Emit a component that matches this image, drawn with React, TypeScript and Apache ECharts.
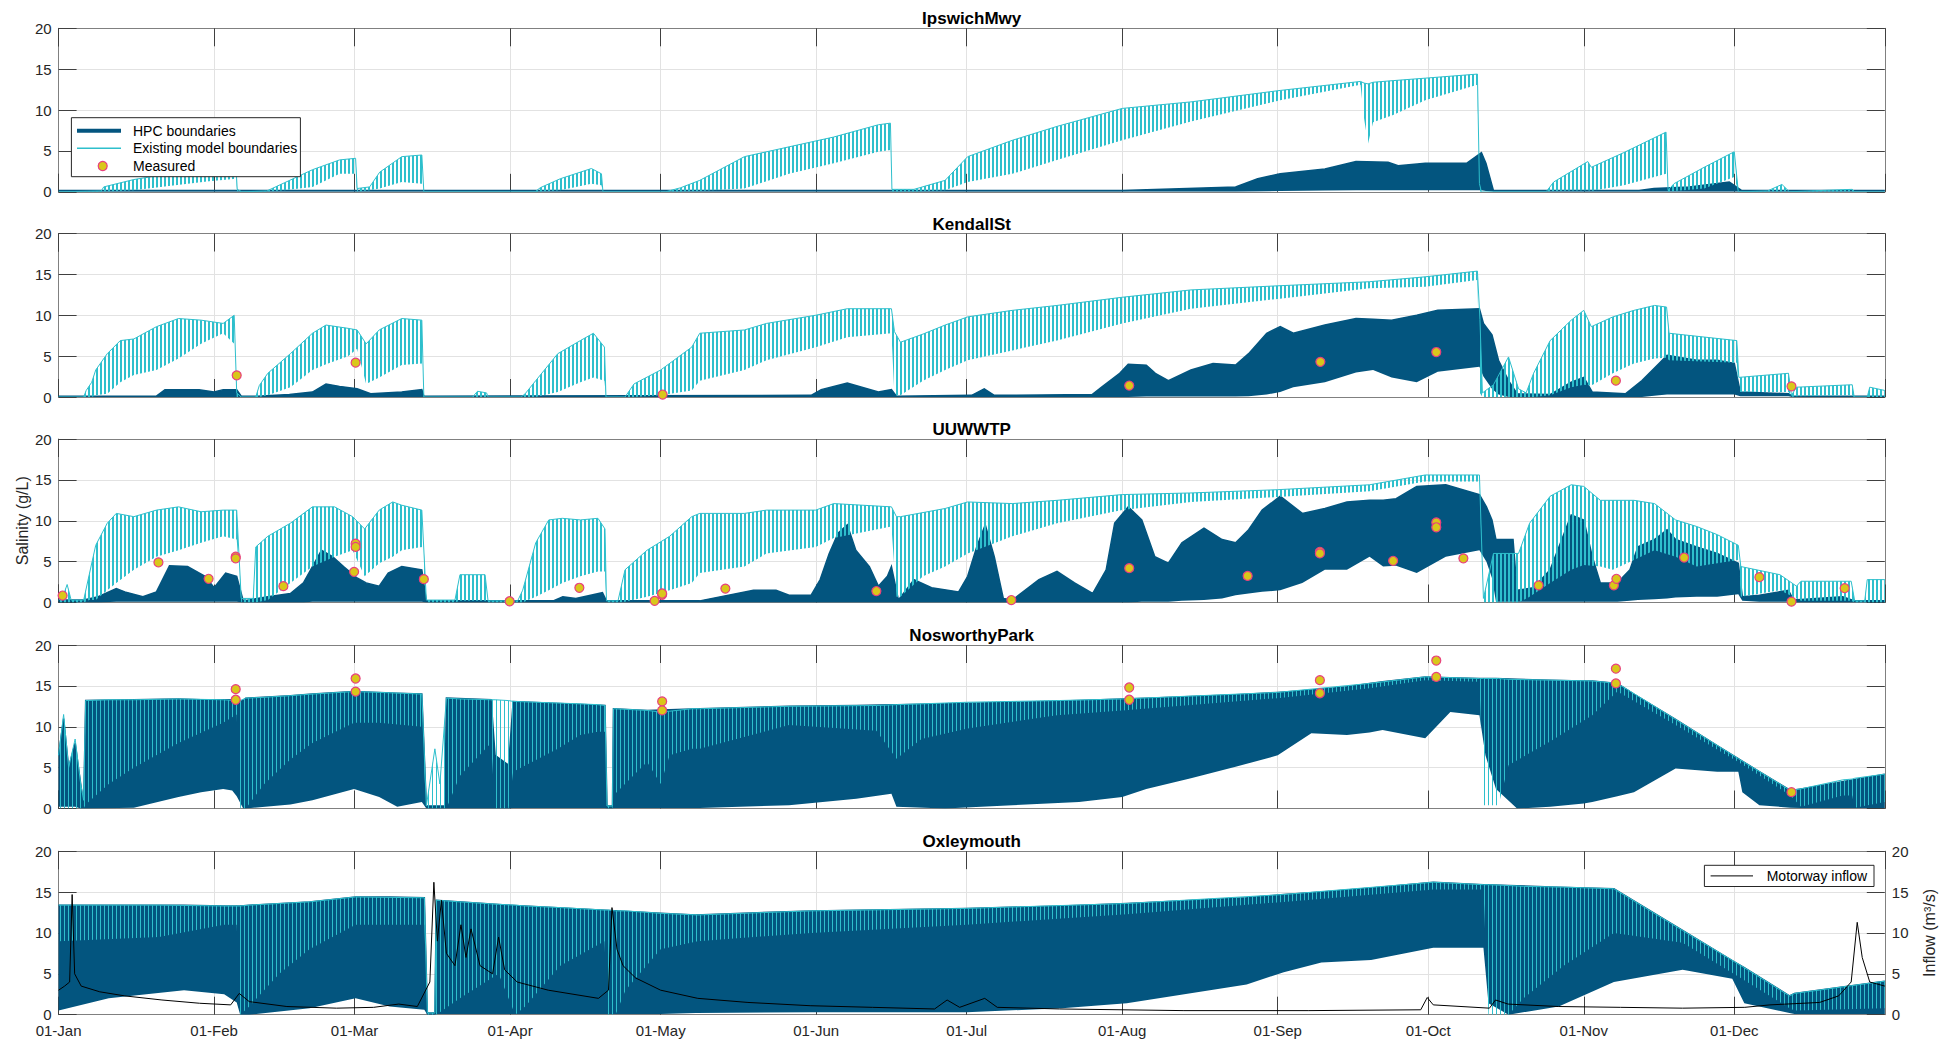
import React, { useEffect, useRef } from 'react';
import * as echarts from 'echarts';

// Each band point: [day of year (0 = 01-Jan), tidal low, tidal high] in g/L
type Band = [number, number, number][];
// [day of year, value]
type Pts = [number, number][];

const panelTitles = ['IpswichMwy', 'KendallSt', 'UUWWTP', 'NosworthyPark', 'Oxleymouth'];
const yTicks = [0, 5, 10, 15, 20];

// ---------- IpswichMwy ----------
const ipswichHpc: Band = [
  [0, 0, 0.15], [212, 0, 0.15], [225, 0, 0.4], [234.6, 0, 0.6], [239, 0.05, 1.6], [243.5, 0.1, 2.2],
  [252.4, 0.15, 2.8], [258.6, 0.2, 3.7], [265, 0.2, 3.6], [267, 0.2, 3.2], [272.4, 0.2, 3.5],
  [280.7, 0.2, 3.5], [283.6, 0.2, 4.8], [284.5, 0.1, 3.5], [286, 0, 0.15], [315, 0, 0.15],
  [318, 0, 0.4], [325, 0, 0.6], [333, 0, 1.2], [335.5, 0, 0.15], [364, 0, 0.15],
];
const ipswichExisting: Band = [
  [0, 0, 0], [8.5, 0, 0.1], [9, 0, 0.6], [15, 0.2, 1.5], [22, 0.7, 2.2], [30, 1.3, 2.6], [35.4, 1.6, 2.6],
  [35.6, 0, 0.3], [36.5, 0, 0], [41.5, 0, 0.1], [45, 0.2, 1.1], [50.6, 0.6, 2.7], [56, 2.2, 3.9],
  [59.2, 2.2, 4.1], [59.5, 0, 0.4], [62, 0.2, 0.6], [64, 0.4, 2.4], [68.4, 1.2, 4.3], [72.4, 1.0, 4.5],
  [72.8, 0, 0], [95, 0, 0], [96, 0, 0.5], [100, 0.2, 1.6], [106.2, 1.0, 2.85], [108.2, 0.8, 2.2],
  [108.5, 0, 0], [121, 0, 0], [124, 0, 0.5], [127.8, 0.1, 1.4], [136.7, 0.4, 4.3], [145.6, 2.2, 5.5],
  [154.5, 3.5, 6.7], [163.4, 4.9, 8.2], [165.8, 5.1, 8.4], [166.1, 0, 0.3], [170.5, 0, 0.3],
  [176.7, 0.2, 1.4], [181.2, 1.2, 4.3], [190.1, 2.2, 6.3], [199, 3.9, 8.0], [212, 6.3, 10.2],
  [225.7, 8.6, 11.0], [243.5, 11.2, 12.4], [259.5, 13.1, 13.5], [260.2, 9, 13.3], [261, 5.9, 13.2],
  [262, 8.5, 13.4], [266, 9.4, 13.6], [272.4, 11.2, 13.9], [282.8, 13.1, 14.4], [283.2, 0, 1],
  [283.6, 0, 0], [296.5, 0, 0], [298, 0.1, 1.2], [304.8, 0.2, 3.7], [305.5, 0.1, 3.0], [312, 0.8, 4.8],
  [320.4, 2.2, 7.3], [320.8, 0, 0.2], [322, 0.1, 1.0], [328, 0.4, 3.0], [334, 1.8, 4.9], [334.8, 0, 0],
  [340.6, 0, 0.1], [343.5, 0, 0.9], [345, 0, 0], [353, 0, 0.2], [357.5, 0, 0.3], [358, 0, 0], [364, 0, 0],
];
const ipswichMeasured: Pts = [];

// ---------- KendallSt ----------
const kendallHpc: Band = [
  [0, 0, 0.1], [19.5, 0, 0.1], [21.2, 0, 0.9], [28, 0, 0.9], [31, 0, 0.6], [32.8, 0, 0.9], [35.5, 0, 0.9],
  [36.4, 0, 0.1], [39.5, 0, 0.1], [46, 0, 0.3], [50.6, 0, 0.6], [53.3, 0, 1.6], [56, 0, 1.3], [59.5, 0, 1.0],
  [62.2, 0, 0.4], [68.4, 0, 0.6], [72.4, 0, 0.9], [72.8, 0, 0.1], [150, 0, 0.2], [152, 0, 0.9],
  [157.2, 0, 1.7], [163.4, 0, 0.6], [166, 0, 0.9], [167, 0, 0.1], [182, 0, 0.2], [184.5, 0, 1.0],
  [186.5, 0, 0.2], [206, 0, 0.3], [207.9, 0, 1.2], [211.5, 0, 2.9], [213.2, 0, 4.0], [216.8, 0.05, 3.9],
  [218.6, 0.05, 2.9], [221.2, 0.05, 2.0], [225.7, 0.05, 3.3], [230.1, 0.05, 4.1], [234.6, 0.05, 3.9],
  [237.2, 0.1, 5.3], [240.8, 0.3, 7.8], [243.5, 0.6, 8.6], [246.1, 1.2, 7.8], [252.4, 1.8, 8.8],
  [258.6, 3.0, 9.6], [262, 3.3, 9.5], [265.7, 2.4, 9.4], [270.7, 1.8, 10.0], [274.9, 3.1, 10.6],
  [283.2, 3.7, 10.8], [284, 2.5, 9.0], [285.7, 1.0, 7.6], [287, 0.3, 4.5], [289, 0, 2.0], [290.7, 0, 0.4],
  [297.3, 0, 0.3], [301.5, 0, 1.8], [304, 0, 2.4], [305.7, 0, 0.6], [312.3, 0, 0.4], [315.6, 0, 2.0],
  [319, 0.2, 4.1], [320.6, 0.3, 5.1], [326.5, 0.3, 4.5], [330.6, 0.3, 4.5], [334, 0.3, 4.1],
  [335.2, 0.1, 0.6], [344.8, 0.1, 0.4], [345.6, 0, 0.1], [364, 0, 0.1],
];
const kendallExisting: Band = [
  [0, 0, 0], [5, 0, 0], [5.5, 0, 0.8], [6.6, 0, 1.8], [7.4, 0.2, 3.3], [9.7, 0.4, 5.3], [12.3, 1.8, 6.9],
  [15, 2.7, 7.1], [19.5, 3.3, 8.6], [23.9, 4.7, 9.6], [28.4, 6.5, 9.4], [32.8, 7.8, 9.0], [35, 6.5, 10.0],
  [35.5, 0, 0.5], [36.4, 0, 0], [39.3, 0, 0], [40, 0, 1.4], [41.7, 0.2, 2.9], [46.2, 1.2, 5.3],
  [50.6, 3.3, 7.8], [53.3, 4.0, 8.8], [57.7, 5.0, 8.4], [59.5, 5.9, 8.2], [61.3, 1.6, 6.5], [63.9, 2.4, 8.2],
  [68.4, 3.9, 9.6], [72.4, 4.1, 9.4], [72.8, 0, 0], [82.5, 0, 0], [83.5, 0, 0.7], [85.3, 0, 0.5],
  [85.6, 0, 0], [92.2, 0, 0], [93, 0, 0.4], [95.1, 0, 2.0], [99.5, 0.6, 5.3], [104, 1.8, 6.9],
  [106.6, 2.4, 7.8], [108.8, 2.0, 6.1], [109.1, 0, 0], [112.9, 0, 0], [114.7, 0, 1.6], [120, 0.2, 3.3],
  [126.2, 0.8, 6.1], [127.8, 2.0, 7.8], [136.7, 3.3, 8.2], [141.1, 4.5, 9.0], [150.9, 6.1, 10.0],
  [157.2, 7.3, 10.8], [166, 7.8, 10.8], [166.6, 0.2, 8.0], [167.8, 0.2, 6.7], [172.3, 2.0, 7.7],
  [176.7, 3.3, 8.8], [181.2, 4.5, 9.8], [190.1, 5.7, 10.6], [199, 6.9, 11.2], [212, 9.0, 12.2],
  [225.7, 10.8, 13.1], [243, 12.0, 13.6], [261.3, 13.3, 14.1], [272.4, 13.5, 14.7], [282.8, 14.3, 15.4],
  [283.3, 0.5, 9.5], [283.8, 0, 0.5], [286, 0, 1.5], [289, 0, 4.9], [291, 0, 1.0], [292.5, 0, 0.5],
  [294, 0, 2.9], [297.3, 0.2, 6.9], [301.5, 1.2, 9.4], [304, 1.5, 10.6], [305.5, 1.4, 8.6],
  [309.8, 2.9, 9.8], [314, 4.1, 10.6], [318.1, 4.7, 11.2], [320.5, 4.8, 11.0], [321, 4.5, 7.8],
  [334.5, 4.2, 6.9], [334.9, 0.6, 2.4], [344.8, 0.6, 2.9], [345.4, 0, 0.2], [346.4, 0.1, 1.2],
  [357.5, 0.2, 1.5], [357.9, 0, 0], [360.5, 0, 0], [361, 0, 1.2], [364, 0, 0.8],
];
const kendallMeasured: Pts = [
  [35.5, 2.65], [59.2, 4.2], [120.4, 0.3], [213.4, 1.4], [251.5, 4.3], [274.6, 5.5], [310.4, 2.0], [345.4, 1.3],
];

// ---------- UUWWTP ----------
const uuwwtpHpc: Band = [
  [0, 0, 0.3], [5, 0, 0.3], [7.9, 0, 0.7], [11.5, 0.1, 1.7], [13.2, 0.1, 1.3], [16.8, 0.1, 0.7],
  [19.5, 0.1, 1.3], [22.1, 0.1, 4.5], [25.7, 0.1, 4.4], [29.2, 0.1, 3.2], [31, 0.1, 1.8], [33.3, 0.1, 3.6],
  [35.5, 0.1, 3.2], [36.8, 0, 0.2], [41.7, 0, 0.7], [46.2, 0, 1.1], [48.8, 0, 2.4], [50.6, 0.1, 4.4],
  [52.4, 0.1, 6.4], [54.6, 0.1, 5.6], [56.8, 0.1, 4.4], [59.5, 0.1, 3.0], [61.3, 0.1, 2.4], [63.9, 0.1, 2.0],
  [65.7, 0.1, 3.6], [68.4, 0.1, 4.4], [72.4, 0.1, 4.0], [73.3, 0, 0.2], [98.6, 0, 0.2], [100.5, 0, 0.7],
  [103.1, 0, 0.5], [108.4, 0, 1.2], [109.2, 0, 0.2], [127.8, 0, 0.2], [138.5, 0, 1.5], [143, 0, 1.5],
  [145.6, 0, 0.9], [150, 0, 0.9], [151.8, 0, 2.8], [153.6, 0, 6.0], [155.4, 0, 8.5], [157.2, 0, 9.5],
  [158.9, 0, 6.4], [161.6, 0, 4.4], [163.4, 0, 2.0], [165.2, 0, 3.2], [166, 0, 4.4], [167.4, 0, 0.3],
  [170.5, 0, 2.8], [174, 0, 1.8], [179.4, 0, 1.3], [181.2, 0, 3.2], [183, 0, 6.8], [184.7, 0, 9.5],
  [186.5, 0, 5.6], [188.3, 0, 0.5], [190.1, 0, 0.3], [195.4, 0, 2.8], [199, 0, 3.8], [202.5, 0, 2.4],
  [206.1, 0, 1.1], [208.8, 0, 4.0], [210.5, 0, 9.7], [213.2, 0, 11.7], [215.9, 0.1, 10.1],
  [218.5, 0.1, 5.6], [221.2, 0.1, 4.8], [223.9, 0.2, 7.3], [228.3, 0.3, 9.1], [231.9, 0.5, 7.7],
  [234.6, 0.9, 7.3], [237.2, 1.1, 8.9], [239.9, 1.3, 11.3], [243.5, 1.5, 13.0], [247.9, 2.4, 10.9],
  [252.4, 4.0, 11.5], [256.8, 4.0, 12.3], [261.3, 5.6, 12.5], [264, 4.4, 12.5], [266.6, 4.5, 12.7],
  [270.7, 3.6, 14.2], [276.5, 5.6, 14.4], [283.2, 6.4, 13.2], [284.6, 5, 11.7], [285.7, 3.0, 10.1],
  [286.5, 0.1, 7.7], [289.9, 0.1, 7.7], [290.7, 0.1, 1.5], [294, 0.1, 1.8], [297.3, 0.1, 4.0],
  [301.5, 0.1, 10.7], [304, 0.1, 10.1], [305.7, 0.1, 5.6], [307.3, 0.1, 2.4], [310.7, 0.1, 2.4],
  [313.2, 0.2, 4.0], [314.8, 0.3, 6.8], [318.1, 0.4, 7.7], [320.6, 0.5, 8.9], [322.3, 0.6, 7.7],
  [326.5, 0.7, 6.8], [330.6, 0.7, 6.0], [334.8, 1.0, 4.8], [335.6, 0.2, 0.7], [339, 0.1, 0.9],
  [344.8, 0.1, 1.5], [345.8, 0, 0.3], [355.6, 0, 0.7], [358, 0, 0.2], [364, 0, 0.2],
];
const uuwwtpExisting: Band = [
  [0, 0, 0.3], [0.8, 0, 0.6], [1.7, 0, 2.2], [2.5, 0, 0.3], [5, 0, 0.3], [6.1, 0.3, 3.4], [7.4, 0.3, 7.0],
  [9.7, 1.5, 9.7], [11.5, 2.4, 10.9], [15, 4.0, 10.5], [19.5, 5.6, 11.3], [23.9, 6.4, 11.7],
  [28.4, 7.3, 11.1], [32.8, 8.1, 11.3], [35.5, 7.7, 11.3], [36.4, 0, 0.5], [38.8, 0, 0.5], [39.3, 0, 6.8],
  [41.7, 0.3, 8.1], [46.2, 2.4, 9.7], [50.6, 4.4, 11.7], [55, 5.6, 11.7], [58.6, 6.4, 10.5], [61, 3.2, 9.0],
  [63.9, 4.8, 11.3], [66.6, 5.6, 12.3], [68.4, 6.4, 11.9], [72.4, 6.8, 11.3], [73.3, 0, 0.3], [79, 0, 0.3],
  [80, 0.2, 3.4], [85, 0.2, 3.4], [85.6, 0, 0.2], [91.5, 0, 0.2], [92.5, 0, 1.5], [95.1, 0.7, 7.3],
  [97.7, 1.5, 10.1], [100.4, 2.4, 10.3], [104, 3.2, 10.1], [107.5, 3.8, 10.3], [108.9, 3.8, 9.0],
  [109.2, 0, 0.2], [111.5, 0, 0.2], [112.9, 0.1, 4.0], [117.3, 0.7, 6.4], [121.8, 1.5, 8.1],
  [126.2, 2.4, 10.5], [127.8, 3.6, 10.9], [136.7, 4.4, 10.9], [141.1, 6.0, 11.3], [150.9, 6.8, 11.3],
  [154.5, 7.9, 12.1], [166, 9.3, 11.7], [167, 0.7, 10.5], [167.8, 0.7, 10.5], [172.3, 3.2, 11.0],
  [176.7, 4.4, 11.5], [181.2, 6.0, 12.3], [190.1, 8.1, 12.1], [199, 9.7, 12.5], [212, 11.3, 13.2],
  [225.7, 12.3, 13.4], [243, 12.9, 13.8], [261.3, 13.6, 14.4], [272.4, 14.8, 15.6], [283.2, 14.8, 15.6],
  [284, 0, 0.5], [286, 0, 6.0], [291, 0, 6.0], [293.2, 0.7, 9.7], [297.3, 2.4, 13.0], [301.5, 4.0, 14.4],
  [304, 4.6, 14.2], [307.3, 4.4, 12.5], [309.8, 4.0, 12.5], [314, 5.2, 12.5], [318.1, 6.4, 12.1],
  [322.3, 5.6, 10.1], [326.5, 4.4, 9.3], [330.6, 4.8, 8.3], [334.8, 5.2, 7.0], [335.3, 0.7, 4.4],
  [343.1, 1.5, 3.4], [346.4, 0.5, 2.0], [347.3, 0.2, 2.6], [357.3, 0.2, 2.6], [358, 0, 0.2], [360, 0, 0.2],
  [360.5, 0, 2.8], [364, 0, 2.8],
];
const uuwwtpMeasured: Pts = [
  [0.8, 0.85], [19.9, 4.9], [29.9, 2.9], [35.3, 5.6], [35.3, 5.4], [44.8, 2.0], [59.2, 7.2], [59.2, 6.8],
  [58.9, 3.75], [72.8, 2.85], [89.9, 0.15], [103.8, 1.8], [118.8, 0.2], [120.3, 0.95], [120.3, 1.1],
  [132.9, 1.7], [163, 1.4], [189.9, 0.3], [213.4, 4.2], [237, 3.25], [251.4, 6.2], [251.4, 6.0], [266, 5.1],
  [274.6, 9.8], [274.6, 9.2], [280, 5.4], [295, 2.1], [310, 2.1], [310.5, 2.9], [324, 5.5], [339, 3.1],
  [345.4, 0.1], [356, 1.75],
];

// ---------- NosworthyPark ----------
const nosworthyHpc: Band = [
  [0, 0.2, 6.5], [1, 0.2, 11], [2, 0.2, 5], [3.3, 0.2, 8], [4.4, 0, 3], [5.0, 0, 0.5], [5.4, 0, 13.2],
  [15, 0.1, 13.3], [23.9, 1.4, 13.4], [28.4, 2.0, 13.3], [32.8, 2.4, 13.3], [34.6, 2.2, 13.3],
  [35.5, 1.5, 13.0], [36.8, 0, 13.2], [37.3, 0, 13.5], [46.2, 0.5, 13.8], [50.6, 1.0, 14.0],
  [58.9, 2.4, 14.3], [63.9, 1.4, 14.2], [67.5, 0.2, 14.1], [72.4, 0.8, 14.0], [73.3, 0, 0.3], [77, 0, 0.3],
  [77.3, 0, 13.5], [86.2, 0, 13.3], [87, 0, 6.5], [89.7, 0, 5.3], [90.6, 0.05, 13.1], [108.9, 0.05, 12.6],
  [109.3, 0, 0.3], [110.4, 0, 0.3], [110.6, 0.05, 12.2], [117.3, 0.05, 12.0], [127.8, 0.05, 12.2],
  [145.6, 0.4, 12.5], [159, 1.2, 12.6], [166, 1.8, 12.7], [167, 0.2, 12.7], [176.7, 0, 12.8],
  [190.1, 0.4, 13.0], [203.4, 0.8, 13.2], [212, 1.4, 13.4], [216.8, 2.4, 13.5], [225.7, 3.7, 13.7],
  [234.6, 5.1, 13.9], [243, 6.5, 14.2], [249.7, 9.2, 14.5], [256.8, 9.0, 14.9], [261.3, 9.3, 15.3],
  [263.9, 9.6, 15.5], [272.4, 8.6, 16.1], [277.4, 11.8, 16.0], [283.2, 11.4, 15.9], [284.4, 6.5, 15.9],
  [286.5, 2.4, 15.9], [290.7, 0, 15.8], [297.3, 0.2, 15.7], [304, 0.6, 15.6], [305.7, 0.8, 15.6],
  [310.7, 1.5, 15.3], [314, 2.0, 14.0], [322.3, 4.9, 10.9], [330.6, 4.5, 7.7], [334.8, 4.5, 6.1],
  [335.6, 2.0, 5.8], [339, 0.4, 4.5], [345.2, 0.1, 2.2], [347.3, 0.05, 2.4], [364, 0.05, 4.2],
];
const nosworthyExisting: Band = [
  [0, 0, 6.5], [1, 0, 11.5], [2, 0, 5], [3.3, 0, 8.5], [4.4, 0, 3], [5.0, 0, 1], [5.4, 0.5, 13.2],
  [10, 3, 13.3], [15, 5, 13.3], [23.9, 8, 13.4], [32.8, 10.5, 13.3], [35.5, 11.5, 13.2], [36.2, 0, 13.2],
  [37.3, 0, 13.5], [41, 3, 13.6], [46.2, 6, 13.8], [50.6, 8, 14.0], [58.9, 10.5, 14.3], [63.9, 10.5, 14.2],
  [72.4, 10, 14.0], [73.3, 0, 0.3], [75, 0, 7.3], [76, 0, 3], [77.3, 0, 13.5], [80, 4, 13.4],
  [86.2, 8, 13.3], [87, 0, 13.3], [89.7, 0, 13.2], [90.6, 4.5, 13.1], [99.5, 7.3, 12.9], [104, 9.0, 12.8],
  [107.5, 9.4, 12.7], [108.9, 9.4, 12.6], [109.3, 0, 0.3], [110.4, 0, 0.3], [110.6, 1.6, 12.2],
  [117.3, 5.7, 12.0], [120, 3, 11.8], [121.8, 6.5, 11.9], [126.2, 7.3, 12.2], [127.8, 7.3, 12.2],
  [145.6, 10.2, 12.5], [163, 9.5, 12.6], [167, 6.1, 12.7], [172, 8.5, 12.8], [181.2, 9.8, 13.0],
  [199, 11.4, 13.2], [212, 12.0, 13.4], [243, 13.5, 14.2], [261.3, 14.7, 15.3], [272.4, 15.7, 16.1],
  [283.2, 15.5, 15.9], [284, 0.4, 15.9], [287, 0.4, 15.9], [289, 5.3, 15.8], [297.3, 8.2, 15.7],
  [305.7, 11.4, 15.6], [310.7, 14.3, 15.3], [322.3, 10.2, 10.9], [334.8, 5.7, 6.1], [345.2, 1.6, 2.2],
  [347.3, 0.2, 2.4], [355.6, 1.6, 3.5], [357.5, 1.6, 3.6], [358, 0.1, 3.7], [364, 0.8, 4.2],
];
const nosworthyMeasured: Pts = [
  [35.3, 14.6], [35.3, 13.3], [59.2, 15.9], [59.2, 14.3], [120.3, 13.1], [120.3, 12.0], [213.4, 14.8],
  [213.4, 13.3], [251.4, 15.7], [251.4, 14.1], [274.6, 18.1], [274.6, 16.1], [310.4, 17.1], [310.4, 15.3],
  [345.4, 2.0],
];

// ---------- Oxleymouth ----------
const oxleyHpc: Band = [
  [0, 0.5, 13.4], [10, 2, 13.4], [25, 3, 13.4], [33, 2.5, 13.3], [35.5, 1.5, 13.3], [36.2, 0, 13.3],
  [38, 0, 13.4], [50, 0.8, 13.8], [59.2, 2.0, 14.4], [66, 1.0, 14.4], [72.9, 0.6, 14.3], [73.5, 0, 0.2],
  [75, 0, 0.2], [75.3, 0.1, 14.0], [90, 0.1, 13.4], [108, 0.1, 12.8], [120, 0.1, 12.4], [127, 0.2, 12.2],
  [150, 0.3, 12.7], [181, 0.3, 13.0], [200, 0.8, 13.3], [212.9, 1.4, 13.6], [236.8, 3.7, 14.3],
  [244.2, 5.2, 14.7], [251.7, 6.4, 15.0], [261.6, 6.7, 15.5], [274, 8.2, 16.2], [284, 8.2, 15.9],
  [285, 1.4, 15.9], [289, 0, 15.8], [299, 1, 15.6], [310, 4, 15.4], [323.7, 5.5, 10.3],
  [333.6, 4.4, 6.6], [336, 1.4, 5.75], [345, 0.2, 2.3], [346, 0.1, 2.6], [364, 0.1, 4.1],
];
const oxleyExisting: Band = [
  [0, 9, 13.4], [20, 9.5, 13.4], [33, 11, 13.3], [35.5, 11, 13.3], [36.2, 0, 13.3], [38, 1, 13.4],
  [44, 5, 13.6], [50, 8, 13.8], [59.2, 11, 14.4], [72.9, 11, 14.3], [73.5, 0, 0.2], [75, 0, 0.2],
  [75.3, 0, 14.0], [80, 2, 13.8], [87.7, 5, 13.5], [91, 0, 13.4], [93, 1, 13.3], [100, 6, 13.1],
  [108.8, 9, 12.8], [109.5, 0, 12.8], [111, 0, 12.7], [113, 3, 12.7], [120, 8, 12.4], [127.4, 9, 12.2],
  [150, 10, 12.7], [181, 11, 13.0], [212.9, 12.3, 13.6], [244.2, 13.8, 14.7], [274, 15.3, 16.2],
  [284, 15.3, 15.9], [285, 0, 15.9], [289, 0, 15.8], [292, 2, 15.7], [300, 6, 15.6], [310, 10, 15.4],
  [323.7, 8.8, 10.3], [336, 4.2, 5.75], [345, 0.8, 2.3], [346, 0.5, 2.6], [364, 0.8, 4.1],
];
const oxleyMeasured: Pts = [];
// Motorway inflow, m³/s
const motorwayInflow: Pts = [
  [0, 3.0], [1.2, 3.5], [2.2, 4.0], [2.7, 14.7], [3.2, 5.0], [4.5, 3.5], [8.2, 2.8], [13.2, 2.3], [20.6, 1.8],
  [28.1, 1.4], [34.3, 1.2], [36, 2.6], [38, 1.6], [45.5, 1.0], [55.4, 0.8], [62.8, 0.9], [67.8, 1.3],
  [71.5, 1.0], [74, 4.0], [74.8, 16.2], [75.5, 9.0], [76.3, 14.0], [77.3, 7.5], [79, 6.0], [80.2, 11.0],
  [81.2, 7.0], [82.2, 10.5], [84, 6.0], [86.5, 5.0], [87.7, 9.5], [88.9, 5.5], [91.4, 4.0], [97.6, 3.0],
  [107.6, 2.0], [109.6, 3.0], [110.3, 13.1], [111.3, 8.0], [112.5, 6.0], [115, 4.5], [120, 3.0],
  [127.4, 2.0], [137.4, 1.5], [149.8, 1.1], [162.2, 0.9], [174.6, 0.7], [177.1, 1.8], [179.6, 0.9],
  [184.6, 2.0], [187.1, 0.9], [199.5, 0.7], [224.3, 0.5], [249.2, 0.5], [271.5, 0.6], [272.8, 2.1],
  [274, 1.2], [285.2, 0.8], [286.4, 1.8], [288.9, 1.3], [298.9, 1.0], [311.3, 0.9], [323.7, 0.8],
  [336.1, 0.9], [341.1, 1.2], [351, 1.5], [354.8, 2.3], [357.3, 4.0], [358.5, 11.3], [359.5, 7.0],
  [361, 4.0], [364, 3.5],
];

const hpcBands = [ipswichHpc, kendallHpc, uuwwtpHpc, nosworthyHpc, oxleyHpc];
const existingBands = [ipswichExisting, kendallExisting, uuwwtpExisting, nosworthyExisting, oxleyExisting];
const measuredSets = [ipswichMeasured, kendallMeasured, uuwwtpMeasured, nosworthyMeasured, oxleyMeasured];

// ---------- styling / layout ----------
const DAY = 86400000;
const T0 = Date.UTC(2021, 0, 1);
const t = (d: number) => T0 + d * DAY;

const FONT = 'Arial, "Liberation Sans", Helvetica, sans-serif';
const BLUE = '#03557F';
const CYAN = '#2EBFCC';
const MARK_FILL = '#D9C71A';
const MARK_EDGE = '#E8407E';
const AXIS = '#808080';
const TICK = '#404040';
const GRID = '#e2e2e2';
const TEXT = '#262626';

const PLOT_LEFT = 58.6;
const PLOT_WIDTH = 1826.2;
const PLOT_H = 163.5;
const tops = [28.3, 233.5, 439, 645, 851.2];

// Vertical hatch used for the tidal envelope of the existing-model series
function stripes(color: string, solidCols: number) {
  const c = document.createElement('canvas');
  c.width = 4;
  c.height = 4;
  const ctx = c.getContext('2d')!;
  ctx.fillStyle = color;
  ctx.fillRect(0, 0, solidCols, 4);
  return { image: c, repeat: 'repeat', imageWidth: 4, imageHeight: 4 };
}

function bandSeries(band: Band, panel: number, fill: any, stroke: string, lineWidth: number, z: number) {
  return {
    type: 'custom',
    xAxisIndex: panel * 2,
    yAxisIndex: panel * 2,
    clip: true,
    silent: true,
    z,
    data: [[t(band[0][0]), band[0][1]]],
    encode: { x: 0, y: 1 },
    renderItem: (_params: any, api: any) => {
      const top = band.map((p) => api.coord([t(p[0]), p[2]]));
      const bottom = band.map((p) => api.coord([t(p[0]), p[1]])).reverse();
      return {
        type: 'group',
        children: [
          { type: 'polygon', shape: { points: top.concat(bottom) }, style: { fill, stroke: null } },
          { type: 'polyline', shape: { points: top }, style: { stroke, lineWidth, fill: null } },
        ],
      };
    },
  };
}

function textStyle(text: string, font: string, align = 'left', fill = '#000') {
  return {
    text,
    font,
    fill,
    align,
    textAlign: align,
    verticalAlign: 'middle',
    textVerticalAlign: 'middle',
  };
}

function buildOption() {
  const grid = tops.map((top) => ({ left: PLOT_LEFT, top, width: PLOT_WIDTH, height: PLOT_H }));

  const xAxis: any[] = [];
  const yAxis: any[] = [];
  tops.forEach((_, i) => {
    const common = {
      type: 'time',
      gridIndex: i,
      min: t(0),
      max: t(364),
      splitNumber: 11,
      minInterval: 32 * DAY,
      maxInterval: 34 * DAY,
      axisLine: { show: true, onZero: false, lineStyle: { color: AXIS, width: 1 } },
      axisTick: { show: true, inside: true, length: 18, lineStyle: { color: TICK, width: 1 } },
    };
    xAxis.push({
      ...common,
      position: 'bottom',
      axisLabel: {
        show: i === 4,
        formatter: '{dd}-{MMM}',
        color: TEXT,
        fontSize: 15,
        fontFamily: FONT,
        margin: 8,
        showMinLabel: true,
      },
      splitLine: { show: true, lineStyle: { color: GRID, width: 1 } },
    });
    xAxis.push({
      ...common,
      position: 'top',
      axisLabel: { show: false },
      splitLine: { show: false },
    });
    const yCommon = {
      type: 'value',
      gridIndex: i,
      min: yTicks[0],
      max: yTicks[yTicks.length - 1],
      interval: 5,
      axisLine: { show: true, lineStyle: { color: AXIS, width: 1 } },
      axisTick: { show: true, inside: true, length: 18, lineStyle: { color: TICK, width: 1 } },
    };
    yAxis.push({
      ...yCommon,
      position: 'left',
      axisLabel: { color: TEXT, fontSize: 15, fontFamily: FONT, margin: 7 },
      splitLine: { show: true, lineStyle: { color: GRID, width: 1 } },
    });
    yAxis.push({
      ...yCommon,
      position: 'right',
      axisLabel: { show: i === 4, color: TEXT, fontSize: 15, fontFamily: FONT, margin: 7 },
      splitLine: { show: false },
    });
  });

  const hatchOpen = stripes(CYAN, 2);
  const hatchThin = stripes(CYAN, 1);
  const series: any[] = [];
  tops.forEach((_, i) => {
    series.push(bandSeries(hpcBands[i], i, BLUE, BLUE, 1.5, 2));
    series.push(bandSeries(existingBands[i], i, i >= 3 ? hatchThin : hatchOpen, CYAN, 1, 3));
    if (measuredSets[i].length) {
      series.push({
        type: 'scatter',
        xAxisIndex: i * 2,
        yAxisIndex: i * 2,
        symbol: 'circle',
        symbolSize: 9,
        silent: true,
        z: 6,
        itemStyle: { color: MARK_FILL, borderColor: MARK_EDGE, borderWidth: 1.2, opacity: 1 },
        data: measuredSets[i].map(([d, v]) => [t(d), v]),
      });
    }
  });
  series.push({
    type: 'line',
    name: 'Motorway inflow',
    xAxisIndex: 8,
    yAxisIndex: 9,
    symbol: 'none',
    silent: true,
    z: 5,
    lineStyle: { color: '#000', width: 1 },
    data: motorwayInflow.map(([d, v]) => [t(d), v]),
  });

  const legendFont = '14px ' + FONT;
  const graphic: any[] = [
    ...panelTitles.map((txt, i) => ({
      type: 'text',
      x: PLOT_LEFT + PLOT_WIDTH / 2,
      y: tops[i] - 9.5,
      z: 100,
      style: textStyle(txt, 'bold 17px ' + FONT, 'center'),
    })),
    {
      type: 'text',
      x: 22.4,
      y: tops[2] + PLOT_H / 2,
      rotation: Math.PI / 2,
      z: 100,
      style: textStyle('Salinity (g/L)', '16px ' + FONT, 'center', TEXT),
    },
    {
      type: 'text',
      x: 1929,
      y: tops[4] + PLOT_H / 2,
      rotation: Math.PI / 2,
      z: 100,
      style: textStyle('Inflow (m³/s)', '16px ' + FONT, 'center', TEXT),
    },
    // salinity legend
    {
      type: 'rect',
      z: 100,
      shape: { x: 71.4, y: 117.7, width: 229, height: 59 },
      style: { fill: '#fff', stroke: '#262626', lineWidth: 1 },
    },
    { type: 'line', z: 101, shape: { x1: 77, y1: 130.7, x2: 121, y2: 130.7 }, style: { stroke: BLUE, lineWidth: 4 } },
    { type: 'text', z: 101, x: 133, y: 130.7, style: textStyle('HPC boundaries', legendFont) },
    { type: 'line', z: 101, shape: { x1: 77, y1: 148.3, x2: 121, y2: 148.3 }, style: { stroke: CYAN, lineWidth: 1.5 } },
    { type: 'text', z: 101, x: 133, y: 148.3, style: textStyle('Existing model boundaries', legendFont) },
    {
      type: 'circle',
      z: 101,
      shape: { cx: 102.7, cy: 166, r: 4.5 },
      style: { fill: MARK_FILL, stroke: MARK_EDGE, lineWidth: 1.2 },
    },
    { type: 'text', z: 101, x: 133, y: 166, style: textStyle('Measured', legendFont) },
    // inflow legend
    {
      type: 'rect',
      z: 100,
      shape: { x: 1704.4, y: 865.3, width: 169.6, height: 21.2 },
      style: { fill: '#fff', stroke: '#262626', lineWidth: 1 },
    },
    { type: 'line', z: 101, shape: { x1: 1710.6, y1: 875.9, x2: 1753, y2: 875.9 }, style: { stroke: '#000', lineWidth: 1 } },
    { type: 'text', z: 101, x: 1766.7, y: 875.9, style: textStyle('Motorway inflow', legendFont) },
  ];

  return {
    animation: false,
    useUTC: true,
    backgroundColor: '#fff',
    grid,
    xAxis,
    yAxis,
    series,
    graphic,
  };
}

export default function App() {
  const ref = useRef<HTMLDivElement>(null);
  useEffect(() => {
    if (!ref.current) return;
    const chart = echarts.init(ref.current, undefined, { renderer: 'svg' });
    chart.setOption(buildOption() as any);
    return () => chart.dispose();
  }, []);
  return (
    <div
      ref={ref}
      style={{ position: 'fixed', left: 0, top: 0, width: 1955, height: 1041, background: '#fff' }}
    />
  );
}
